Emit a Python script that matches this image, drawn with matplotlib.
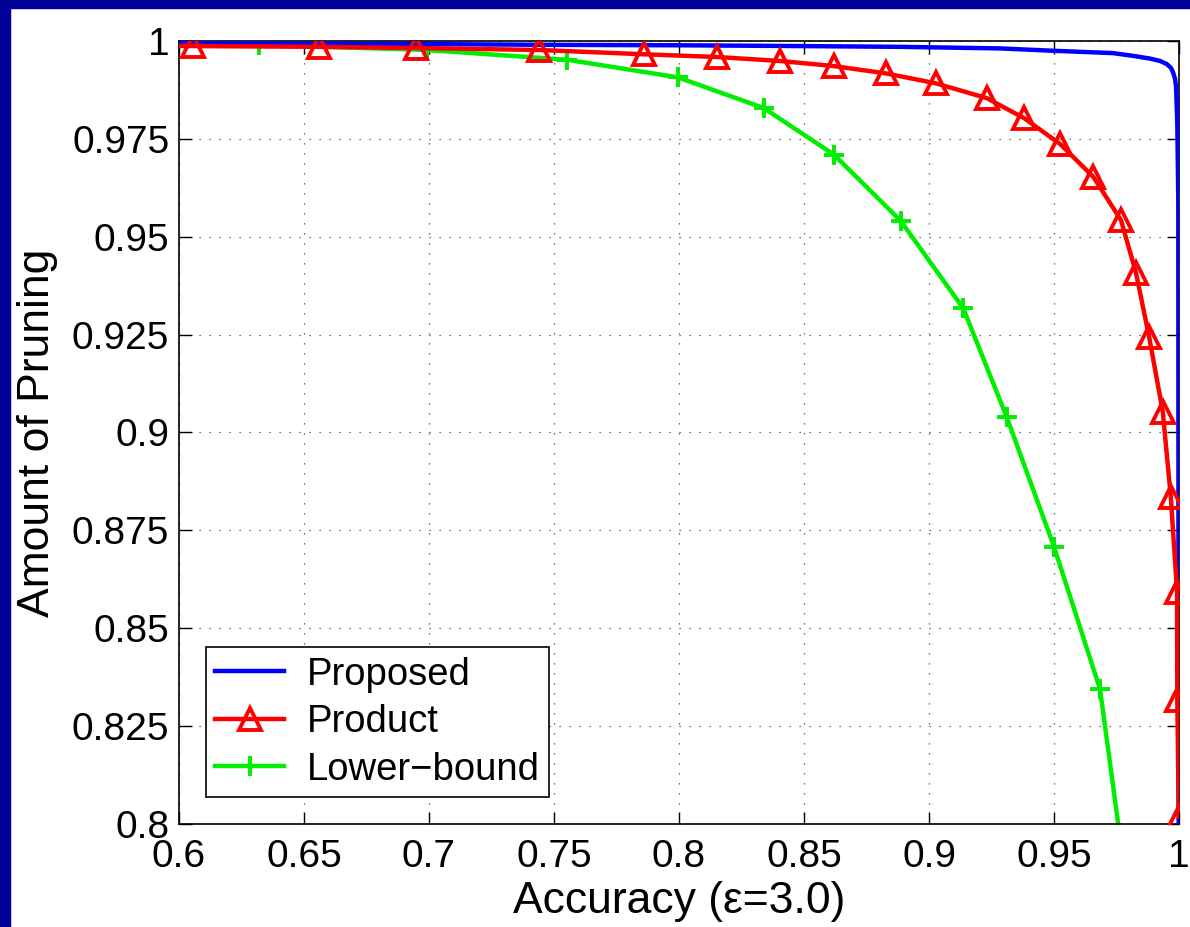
import matplotlib
matplotlib.use("Agg")
import matplotlib.pyplot as plt
from matplotlib.patches import Rectangle
from matplotlib.ticker import FuncFormatter

### data

# Proposed (blue, no markers)
proposed_acc = [0.6, 0.6484, 0.7004, 0.7524, 0.8004, 0.8484, 0.8884, 0.9284, 0.9496,
				0.9736, 0.9816, 0.9884, 0.9924, 0.9951, 0.9968, 0.9977, 0.9984, 0.9988,
				0.9993, 0.9997, 0.99984]
proposed_prune = [0.9994, 0.9993, 0.9992, 0.9990, 0.9989, 0.9987, 0.9985, 0.9981, 0.9975,
				  0.9969, 0.9962, 0.9955, 0.9949, 0.9941, 0.9931, 0.9918, 0.9903, 0.9883,
				  0.9791, 0.9594, 0.7985]

# Product (red triangles)
product_acc = [0.55, 0.6056, 0.656, 0.6948, 0.744, 0.7861, 0.8153, 0.8402, 0.8619, 0.8829,
			   0.9026, 0.9231, 0.9380, 0.9524, 0.9657, 0.9768, 0.9828, 0.988, 0.9935,
			   0.9967, 0.9992, 0.9993, 0.9999]
product_prune = [0.9989, 0.9987, 0.9985, 0.9982, 0.9977, 0.9966, 0.9959, 0.9949, 0.9936,
				 0.9917, 0.9892, 0.9854, 0.9803, 0.9737, 0.9653, 0.9542, 0.9407, 0.9245,
				 0.9053, 0.8836, 0.8593, 0.8317, 0.8019]

# Lower-bound (green pluses)
lower_acc = [0.55, 0.6321, 0.6991, 0.7553, 0.7996, 0.8338, 0.8619, 0.8886, 0.9137,
			 0.9311, 0.95, 0.9684, 0.982]
lower_prune = [0.9995, 0.9990, 0.9977, 0.9952, 0.9907, 0.9829, 0.9710, 0.9541, 0.9317,
			   0.9039, 0.8708, 0.8344, 0.77]

x_ticks = [0.6, 0.65, 0.7, 0.75, 0.8, 0.85, 0.9, 0.95, 1.0]
y_ticks = [0.8, 0.825, 0.85, 0.875, 0.9, 0.925, 0.95, 0.975, 1.0]

plt.rcParams['font.family'] = ['Liberation Sans', 'DejaVu Sans']

fig = plt.figure(figsize=(11.9, 9.27), dpi=100)
ax = fig.add_axes([0.1504, 0.1111, 0.8404, 0.8447])

# navy slide border on left and top
navy = '#000099'
fig.patches.append(Rectangle((0, 0), 10 / 1190, 1, transform=fig.transFigure,
							 color=navy, zorder=-1))
fig.patches.append(Rectangle((0, 1 - 8 / 927), 1, 8 / 927, transform=fig.transFigure,
							 color=navy, zorder=-1))

ax.plot(proposed_acc, proposed_prune, color='#0000ff', lw=3.2, label='Proposed', zorder=3)
ax.plot(product_acc, product_prune, color='#ff0000', lw=3.2, marker='^', ms=15.5,
		mfc='none', mew=2.8, label='Product', zorder=4)
ax.plot(lower_acc, lower_prune, color='#00ee00', lw=3.2, marker='+', ms=15,
		mew=2.8, label='Lower\u2212bound', zorder=2)

ax.set_xlim(0.6, 1.0)
ax.set_ylim(0.8, 1.0)
ax.set_xticks(x_ticks)
ax.set_yticks(y_ticks)
fmt = FuncFormatter(lambda v, p: '%g' % round(v, 4))
ax.xaxis.set_major_formatter(fmt)
ax.yaxis.set_major_formatter(fmt)

ax.tick_params(direction='in', length=9, width=1, top=True, right=True, labelsize=28)
ax.tick_params(axis='x', pad=11)
ax.tick_params(axis='y', pad=7)
for s in ax.spines.values():
	s.set_linewidth(1.2)

ax.grid(True, color='#444444', lw=0.9, linestyle=(0, (1, 7)))

ax.set_xlabel('Accuracy (\u03b5=3.0)', fontsize=32, labelpad=4)
ax.set_ylabel('Amount of Pruning', fontsize=32, labelpad=10)

leg = ax.legend(loc='lower left', fontsize=27.5, frameon=True, fancybox=False,
				edgecolor='k', framealpha=1, handlelength=1.8, handletextpad=0.6,
				labelspacing=0.3, borderaxespad=0.7, borderpad=0.25)
leg.get_frame().set_linewidth(1.2)

fig.savefig('out.png', dpi=100)
